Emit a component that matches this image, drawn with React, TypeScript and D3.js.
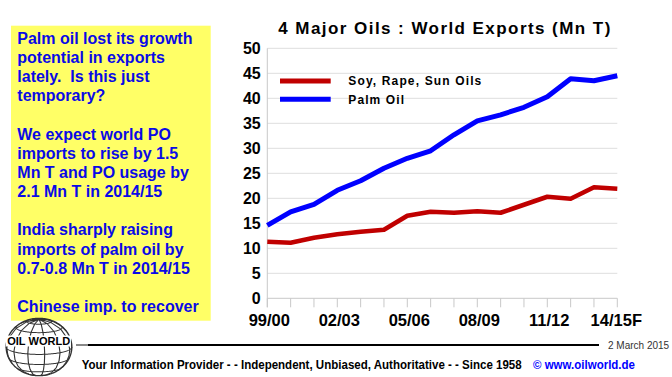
import React from "react";
import * as d3 from "d3";

const seasons = ["99/00","00/01","01/02","02/03","03/04","04/05","05/06","06/07","07/08","08/09","09/10","10/11","11/12","12/13","13/14","14/15F"];
const palmOil = [14.6,17.3,18.8,21.6,23.5,26.0,28.0,29.5,32.7,35.5,36.7,38.2,40.3,43.9,43.5,44.5];
const softOils = [11.3,11.1,12.1,12.8,13.3,13.7,16.5,17.3,17.1,17.4,17.1,18.7,20.3,19.9,22.2,21.9];
const yTicks = [0,5,10,15,20,25,30,35,40,45,50];
const xLabelIdx = [0,3,6,9,12,15];
const noteLines = [
  "Palm oil lost its growth",
  "potential in exports",
  "lately.  Is this just",
  "temporary?",
  "",
  "We expect world PO",
  "imports to rise by 1.5",
  "Mn T and PO usage by",
  "2.1 Mn T in 2014/15",
  "",
  "India sharply raising",
  "imports of palm oil by",
  "0.7-0.8 Mn T in 2014/15",
  "",
  "Chinese imp. to recover",
];
const seriesNames = ["Soy, Rape, Sun Oils", "Palm Oil"];
const seriesColors = ["#c00000", "#0000ff"];

const FONT = "'Liberation Sans', Arial, sans-serif";

export default function App() {
  const W = 672, H = 377;
  const x = d3.scaleLinear().domain([0, seasons.length - 1]).range([267.3, 617.3]);
  const y = d3.scaleLinear().domain([0, 50]).range([298.3, 48.3]);
  const line = d3.line<number>().x((_, i) => x(i)).y(d => y(d));

  // globe logo
  const proj = d3.geoOrthographic().scale(29).translate([0, 0]).rotate([10, -15]).clipAngle(90);
  const geoPath = d3.geoPath(proj);
  const grat = d3.geoGraticule().step([30, 22.5])();

  return (
    <svg width={W} height={H} style={{ position: "absolute", left: 0, top: 0, background: "#fff" }} fontFamily={FONT}>
      <rect x={0} y={0} width={W} height={H} fill="#fff" />
      {/* note box */}
      <rect x={11} y={25.7} width={199.7} height={295} fill="#ffff66" />
      {noteLines.map((t, i) => (
        <text key={i} x={17.3} y={44 + i * 19.14} fontSize={16} fontWeight="bold" fill="#0a0ae6" style={{ whiteSpace: "pre" }}>{t}</text>
      ))}

      {/* title */}
      <text x={278.3} y={34} fontSize={17} fontWeight="bold" textLength={332} lengthAdjust="spacing" fill="#000">4 Major Oils : World Exports (Mn T)</text>

      {/* grid */}
      {yTicks.map(t => (
        <g key={t}>
          <line x1={x(0)} x2={x(seasons.length - 1)} y1={y(t)} y2={y(t)} stroke={t === 0 ? "#c8c8c8" : "#dedede"} strokeWidth={1} />
          <text x={260.7} y={y(t) + 5.5} fontSize={16} fontWeight="bold" textAnchor="end" fill="#000">{t}</text>
        </g>
      ))}
      <line x1={x(0)} x2={x(0)} y1={y(50)} y2={y(0) + 9} stroke="#c8c8c8" strokeWidth={1} />
      {seasons.map((s, i) => (
        <line key={s} x1={x(i)} x2={x(i)} y1={y(0)} y2={y(0) + 9} stroke="#c8c8c8" strokeWidth={1} />
      ))}
      {xLabelIdx.map(i => (
        <text key={i} x={x(i) + (i === 15 ? -1 : 2)} y={326} fontSize={16.5} fontWeight="bold" textAnchor="middle" fill="#000">{seasons[i]}</text>
      ))}

      {/* series */}
      <path d={line(softOils) || ""} fill="none" stroke={seriesColors[0]} strokeWidth={4.6} strokeLinejoin="round" />
      <path d={line(palmOil) || ""} fill="none" stroke={seriesColors[1]} strokeWidth={5} strokeLinejoin="round" />

      {/* legend */}
      {seriesNames.map((n, i) => (
        <g key={n}>
          <line x1={280} x2={330.7} y1={81 + i * 18.3} y2={81 + i * 18.3} stroke={seriesColors[i]} strokeWidth={5} />
          <text x={348.3} y={85.3 + i * 18.3} fontSize={12} fontWeight="bold" fill="#000"
            textLength={i === 0 ? 133 : 55.7} lengthAdjust="spacing">{n}</text>
        </g>
      ))}

      {/* footer */}
      <line x1={76} x2={88} y1={345} y2={345} stroke="#888" strokeWidth={2} />
      <line x1={88} x2={599} y1={345} y2={345} stroke="#000" strokeWidth={2} />
      <text x={608} y={349} fontSize={10} fill="#333">2 March 2015</text>
      <text x={81.7} y={369} fontSize={12} fontWeight="bold" fill="#000" textLength={440} lengthAdjust="spacingAndGlyphs">Your Information Provider - - Independent, Unbiased, Authoritative - - Since 1958</text>
      <text x={533} y={369} fontSize={12} fontWeight="bold" fill="#0000ff" textLength={102} lengthAdjust="spacingAndGlyphs">© www.oilworld.de</text>

      {/* logo */}
      <g transform="translate(39,347) scale(1.13,0.99)">
        <path d={geoPath({ type: "Sphere" } as any) || ""} fill="#fff" stroke="#333" strokeWidth={1.3} />
        <path d={geoPath(grat as any) || ""} fill="none" stroke="#333" strokeWidth={1} />
      </g>
      <rect x={6} y={335.5} width={65} height={11} fill="#fff" />
      <text x={38.7} y={345} fontSize={11} fontWeight="bold" textAnchor="middle" fill="#000" textLength={63} lengthAdjust="spacingAndGlyphs">OIL WORLD</text>
    </svg>
  );
}
